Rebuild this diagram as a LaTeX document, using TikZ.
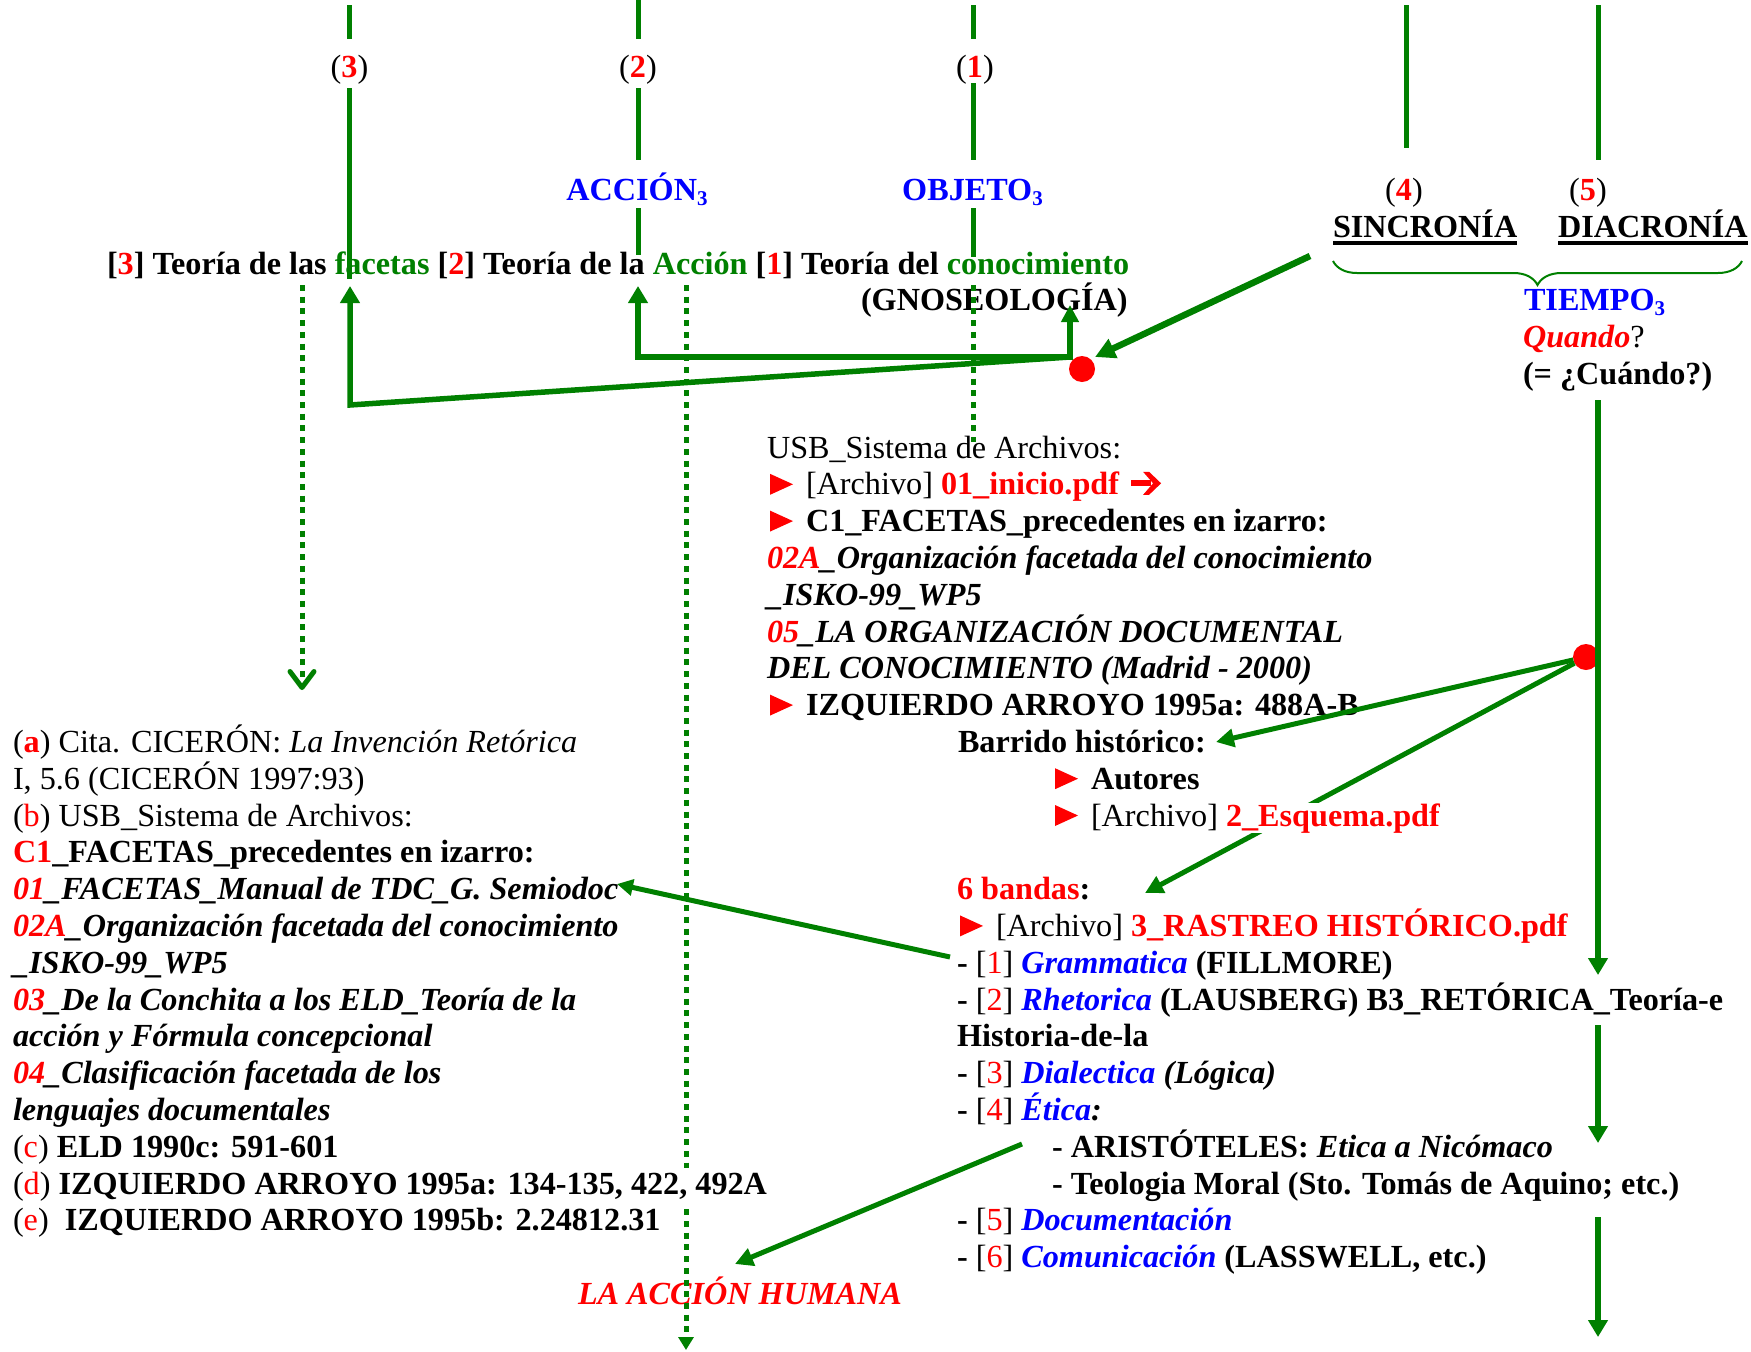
\documentclass[tikz,border=0pt]{standalone}
\usepackage{fontspec}
\setmainfont{Liberation Serif}
\usetikzlibrary{arrows.meta,decorations.pathreplacing}
\definecolor{gr}{RGB}{0,128,0}
\definecolor{rd}{RGB}{255,0,0}
\definecolor{bl}{RGB}{0,0,255}
\newcommand\R[1]{\textcolor{rd}{#1}}
\newcommand\Bl[1]{\textcolor{bl}{#1}}
\newcommand\Gr[1]{\textcolor{gr}{#1}}
\newcommand\sbt[1]{\raisebox{-0.15em}{\fontsize{21}{21}\selectfont #1}}
\newcommand\tri{\hspace*{3pt}\tikz[baseline=0pt]\fill[rd] (0pt,0pt) -- (0pt,21pt) -- (23pt,10.5pt) -- cycle;\hspace*{13pt}}
\newcommand\harr{\tikz[baseline=0pt]{\fill[rd] (0pt,8.5pt) rectangle (20pt,14.5pt); \fill[rd] (12pt,0pt) -- (18pt,0pt) -- (30pt,11.5pt) -- (18pt,23pt) -- (12pt,23pt) -- (22pt,11.5pt) -- cycle;}}
\begin{document}
\begin{tikzpicture}[x=1pt,y=-1pt,
  every node/.style={inner sep=0pt,outer sep=0pt,font=\fontsize{32.2}{36.8}\selectfont},
  txt/.style={anchor=base west},
  ctr/.style={anchor=base},
  gl/.style={draw=gr,line width=5pt},
  brk/.style={draw=gr,line width=5.5pt},
  dots/.style={draw=gr,line width=5pt,dash pattern=on 6pt off 5.7pt},
  tipA/.style={-{Triangle[length=17pt,width=19pt]}},
  tipB/.style={-{Triangle[length=18pt,width=18pt]}},
  reddot/.style={circle,fill=rd,minimum size=26pt}]
\useasboundingbox (0,0) rectangle (1751,1352);

% ---------- header labels ----------
\node[ctr] (n3) at (349.5,77) {(\R{\bfseries 3})};
\node[ctr] (n2) at (638,77) {(\R{\bfseries 2})};
\node[ctr] (n1) at (975,77) {(\R{\bfseries 1})};
\node[ctr] (n4) at (1404,200.4) {(\R{\bfseries 4})};
\node[ctr] (n5) at (1588,200.4) {(\R{\bfseries 5})};
\node[ctr] (acc) at (637,200.4) {\bfseries\color{bl}ACCIÓN\sbt{3}};
\node[ctr] (obj) at (972.5,200.4) {\bfseries\color{bl}OBJETO\sbt{3}};
\node[txt] (sinc) at (1333,237.2) {\bfseries SINCRONÍA};
\node[txt] (diac) at (1558,237.2) {\bfseries DIACRONÍA};
\draw[line width=4pt] ([yshift=-6pt]sinc.base west) -- ([yshift=-6pt]sinc.base east);
\draw[line width=4pt] ([yshift=-6pt]diac.base west) -- ([yshift=-6pt]diac.base east);

\node[txt] (teor) at (107,274) {\bfseries [\R{3}] Teoría de las \Gr{facetas} [\R{2}] Teoría de la \Gr{Acción} [\R{1}] Teoría del \Gr{conocimiento}};
\node[txt] (gnos) at (861,310.8) {\bfseries (GNOSEOLOGÍA)};
\node[txt] (tiem) at (1524,310.8) {\bfseries\color{bl}TIEMPO\sbt{3}};
\node[txt] (quan) at (1523,347.6) {\R{\bfseries\itshape Quando}?};
\node[txt] (cuan) at (1523,384.4) {\bfseries (= ¿Cuándo?)};

% ---------- right block ----------
\node[txt] (r0) at (767,458) {USB\_Sistema de Archivos:};
\node[txt] (r1) at (767,494.8) {\tri[Archivo] \R{\bfseries 01\_inicio.pdf}\hspace*{4pt} \harr};
\node[txt] (r2) at (767,531.6) {\tri\bfseries C1\_FACETAS\_precedentes en izarro:};
\node[txt] (r3) at (767,568.4) {\bfseries\itshape\R{02A}\_Organización facetada del conocimiento};
\node[txt] (r4) at (767,605.2) {\bfseries\itshape \_ISKO-99\_WP5};
\node[txt] (r5) at (767,642) {\bfseries\itshape\R{05}\_LA ORGANIZACIÓN DOCUMENTAL};
\node[txt] (r6) at (767,678.8) {\bfseries\itshape DEL CONOCIMIENTO (Madrid - 2000)};
\node[txt] (r7) at (767,715.6) {\tri\bfseries IZQUIERDO ARROYO 1995a: 488A-B};
\node[txt] (r8) at (958,752.4) {\bfseries Barrido histórico:};
\node[txt] (r9) at (1052,789.2) {\tri\bfseries Autores};
\node[txt] (r12) at (957,899.6) {\bfseries\R{6 bandas}:};
\node[txt] (r13) at (957,936.4) {\tri[Archivo] \R{\bfseries 3\_RASTREO HISTÓRICO.pdf}};
\node[txt] (r14) at (957,973.2) {{\bfseries -} [\R{1}] {\bfseries\itshape\Bl{Grammatica}} {\bfseries (FILLMORE)}};
\node[txt] (r15) at (957,1010) {{\bfseries -} [\R{2}] {\bfseries\itshape\Bl{Rhetorica}} {\bfseries (LAUSBERG) B3\_RETÓRICA\_Teoría-e}};
\node[txt] (r16) at (957,1046.8) {\bfseries Historia-de-la};
\node[txt] (r17) at (957,1083.6) {{\bfseries -} [\R{3}] {\bfseries\itshape\Bl{Dialectica} (Lógica)}};
\node[txt] (r18) at (957,1120.4) {{\bfseries -} [\R{4}] {\bfseries\itshape\Bl{Ética}:}};
\node[txt] (r19) at (1052,1157.2) {\bfseries - ARISTÓTELES: {\itshape Etica a Nicómaco}};
\node[txt] (r20) at (1052,1194) {\bfseries - Teologia Moral (Sto. Tomás de Aquino; etc.)};
\node[txt] (r21) at (957,1230.8) {{\bfseries -} [\R{5}] {\bfseries\itshape\Bl{Documentación}}};
\node[txt] (r22) at (957,1267.6) {{\bfseries -} [\R{6}] {\bfseries\itshape\Bl{Comunicación}} {\bfseries (LASSWELL, etc.)}};
\node[txt] (r23) at (578,1304.4) {\bfseries\itshape\R{LA ACCIÓN HUMANA}};

% ---------- left column ----------
\node[txt] (l8) at (13,752.4) {(\R{\bfseries a}) Cita. CICERÓN: \textit{La Invención Retórica}};
\node[txt] (l9) at (13,789.2) {I, 5.6 (CICERÓN 1997:93)};
\node[txt] (l10) at (13,826) {(\R{b}) USB\_Sistema de Archivos:};
\node[txt] (l11) at (13,862.8) {\bfseries\R{C1}\_FACETAS\_precedentes en izarro:};
\node[txt] (l12) at (13,899.6) {\bfseries\itshape\R{01}\_FACETAS\_Manual de TDC\_G. Semiodoc};
\node[txt] (l13) at (13,936.4) {\bfseries\itshape\R{02A}\_Organización facetada del conocimiento};
\node[txt] (l14) at (13,973.2) {\bfseries\itshape \_ISKO-99\_WP5};
\node[txt] (l15) at (13,1010) {\bfseries\itshape\R{03}\_De la Conchita a los ELD\_Teoría de la};
\node[txt] (l16) at (13,1046.8) {\bfseries\itshape acción y Fórmula concepcional};
\node[txt] (l17) at (13,1083.6) {\bfseries\itshape\R{04}\_Clasificación facetada de los};
\node[txt] (l18) at (13,1120.4) {\bfseries\itshape lenguajes documentales};
\node[txt] (l19) at (13,1157.2) {(\R{c}) {\bfseries ELD 1990c: 591-601}};
\node[txt] (l21) at (13,1230.8) {(\R{e})\ \ {\bfseries IZQUIERDO ARROYO 1995b: 2.24812.31}};

% ---------- top vertical lines ----------
\draw[gl] (349.5,5) -- (349.5,39);
\draw[gl] (349.5,88) -- (349.5,279);
\draw[gl] (638,0) -- (638,39);
\draw[gl] (638,88) -- (638,160);
\draw[gl] (638,208) -- (638,255);
\draw[gl] (973.5,5) -- (973.5,39);
\draw[gl] (973.5,83) -- (973.5,160);
\draw[gl] (973.5,208) -- (973.5,257);
\draw[gl] (1406,5) -- (1406,148);
\draw[gl] (1598,5) -- (1598,160);

% brace
\coordinate (bra) at (1333,261);
\coordinate (brb) at (1742,261);
\draw[gr,line width=2pt,decorate,decoration={brace,amplitude=24pt,mirror}] (bra) -- (brb);

% ---------- dotted lines ----------
\draw[dots,-{Straight Barb[length=16pt,width=24pt,round]}] (302,285) -- (302,690);
\draw[dots,-{Triangle[length=13pt,width=15pt]}] (686,285) -- (686,1350);
\draw[dots] (973.5,285) -- (973.5,442);

% ---------- bracket arrows ----------
\coordinate (J) at (1070,357);
\coordinate (t1) at (1070,305);
\coordinate (t2) at (638,286);
\coordinate (t3) at (350,286);
\coordinate (c3) at (350,405);
\draw[brk,{Triangle[length=17pt,width=19pt]}-{Triangle[length=17pt,width=17pt]}] (t2) |- (J) -- (t1);
\draw[brk,tipA] (J) -- (c3) -- (t3);

\node[reddot] (dot1) at (1082,369) {};
\coordinate (s0) at (1310,256);
\coordinate (s1) at (1095,357);
\draw[gr,line width=6.5pt,-{Triangle[length=20pt,width=20pt]}] (s0) -- (s1);

% ---------- lower red dot and line 5 ----------
\node[reddot] (dot2) at (1586,657) {};
\draw[gl,line width=5.5pt,tipA] (1598,400) -- (1598,975);
\draw[gl,line width=5.5pt,tipA] (1598,1025) -- (1598,1143);
\draw[gl,line width=5.5pt,tipA] (1598,1217) -- (1598,1337);
\coordinate (bh) at (1216,742);
\coordinate (bd) at (1145,893);
\draw[gl,tipB] (dot2) -- (bh);
\draw[gl,tipB] (dot2) -- (bd);

% ---------- other arrows ----------
\coordinate (g0) at (950,957);
\coordinate (g1) at (617,884);
\draw[gl,-{Triangle[length=16pt,width=16pt]}] (g0) -- (g1);
\coordinate (h0) at (1022,1144);
\coordinate (h1) at (735,1264);
\draw[gl,tipB] (h0) -- (h1);

% ---------- opaque text lines ----------
\node[txt,fill=white] (r10) at (1052,826) {\tri[Archivo] \R{\bfseries 2\_Esquema.pdf}};
\node[txt,fill=white,inner ysep=4pt] (l20) at (13,1194) {(\R{d}) {\bfseries IZQUIERDO ARROYO 1995a: 134-135, 422, 492A}};
\end{tikzpicture}
\end{document}
